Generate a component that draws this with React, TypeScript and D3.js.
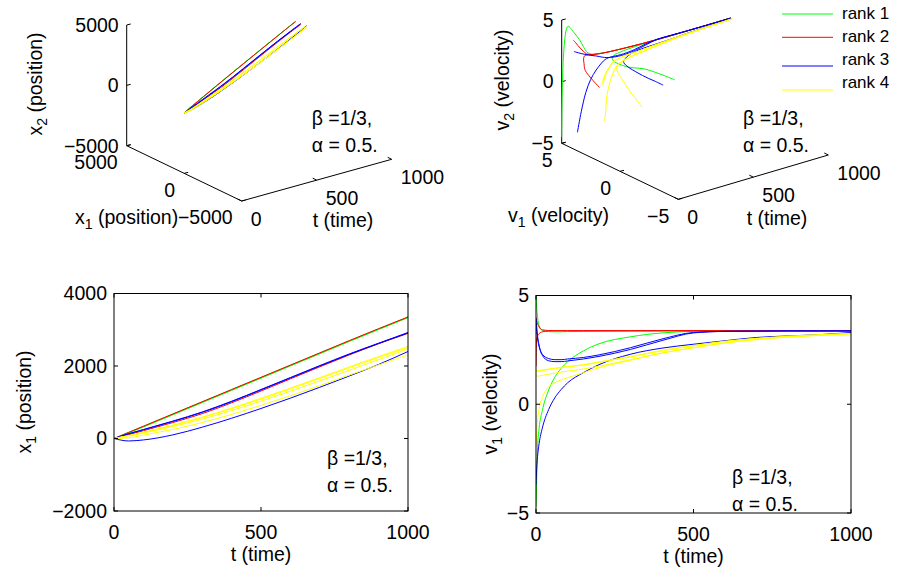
import React from "react";
import * as d3 from "d3";

// time grids: velocities are sampled finer near t = 0 where the transients are
const tVel = [0, 2, 5, 10, 20, 40, 60, 80, 100, 150, 200, 300, 400, 500, 600, 700, 800, 900, 1000];
const tPos = [0, 50, 100, 200, 300, 400, 500, 600, 700, 800, 900, 1000];

const rankNames = ["rank 1", "rank 2", "rank 3", "rank 4"];
const rankColors = ["#00ff00", "#ff0000", "#0000ff", "#ffff00"];

// rank of each agent (index into rankNames)
const agentRank = [0, 0, 1, 1, 2, 2, 2, 3, 3, 3, 3];

// v1 of each agent on tVel
const v1 = [
  [5.0, 4.5, 4.0, 3.6, 3.4, 3.34, 3.33, 3.33, 3.34, 3.35, 3.36, 3.37, 3.38, 3.38, 3.38, 3.38, 3.38, 3.38, 3.38],
  [-4.7, -3.6, -2.0, -1.1, -0.3, 0.65, 1.25, 1.65, 1.95, 2.45, 2.78, 3.1, 3.28, 3.35, 3.37, 3.38, 3.38, 3.38, 3.38],
  [4.0, 3.85, 3.7, 3.55, 3.42, 3.39, 3.38, 3.38, 3.38, 3.38, 3.38, 3.38, 3.38, 3.38, 3.38, 3.38, 3.38, 3.38, 3.38],
  [1.75, 3.0, 3.15, 3.25, 3.33, 3.37, 3.38, 3.38, 3.38, 3.38, 3.38, 3.38, 3.38, 3.38, 3.38, 3.38, 3.38, 3.38, 3.38],
  [3.95, 3.6, 3.15, 2.7, 2.25, 2.0, 1.96, 1.96, 1.99, 2.08, 2.2, 2.52, 2.93, 3.28, 3.35, 3.36, 3.37, 3.37, 3.37],
  [3.65, 3.35, 3.0, 2.65, 2.3, 2.1, 2.05, 2.05, 2.08, 2.15, 2.27, 2.6, 3.0, 3.3, 3.35, 3.36, 3.37, 3.37, 3.37],
  [-3.7, -3.0, -2.4, -1.8, -1.1, -0.25, 0.3, 0.68, 0.98, 1.45, 1.82, 2.3, 2.58, 2.76, 2.92, 3.07, 3.14, 3.2, 3.3],
  [1.58, 1.55, 1.55, 1.56, 1.58, 1.62, 1.66, 1.7, 1.73, 1.82, 1.95, 2.2, 2.48, 2.7, 2.9, 3.03, 3.13, 3.2, 3.26],
  [1.5, 1.5, 1.5, 1.52, 1.55, 1.6, 1.64, 1.68, 1.72, 1.8, 1.92, 2.17, 2.45, 2.68, 2.88, 3.02, 3.12, 3.19, 3.25],
  [1.38, 1.3, 1.28, 1.3, 1.33, 1.38, 1.43, 1.48, 1.52, 1.62, 1.75, 2.05, 2.35, 2.6, 2.82, 2.98, 3.09, 3.17, 3.24],
  [-1.9, -1.4, -0.7, -0.2, 0.3, 0.8, 1.0, 1.12, 1.22, 1.45, 1.68, 2.02, 2.36, 2.6, 2.82, 2.98, 3.09, 3.17, 3.24],
];

// v2 of each agent on tVel
const v2 = [
  [-4.5, 4.7, 4.4, 4.0, 3.5, 3.0, 2.8, 2.7, 2.65, 2.55, 2.48, 2.4, 2.35, 2.32, 2.3, 2.3, 2.3, 2.3, 2.3],
  [4.55, 4.45, 4.2, 3.85, 3.55, 3.28, 3.1, 3.0, 2.92, 2.75, 2.6, 2.45, 2.37, 2.33, 2.31, 2.3, 2.3, 2.3, 2.3],
  [3.81, 3.7, 3.53, 3.35, 3.13, 2.85, 2.72, 2.65, 2.6, 2.52, 2.47, 2.4, 2.35, 2.32, 2.3, 2.3, 2.3, 2.3, 2.3],
  [1.0, 1.8, 2.3, 2.6, 2.75, 2.75, 2.7, 2.65, 2.6, 2.52, 2.47, 2.4, 2.35, 2.32, 2.3, 2.3, 2.3, 2.3, 2.3],
  [2.92, 2.97, 3.05, 3.15, 3.25, 3.2, 3.12, 3.05, 2.98, 2.85, 2.75, 2.6, 2.48, 2.4, 2.35, 2.32, 2.3, 2.3, 2.3],
  [-3.5, -1.7, 0.0, 1.2, 2.1, 2.68, 2.92, 2.98, 2.97, 2.88, 2.78, 2.62, 2.5, 2.4, 2.35, 2.32, 2.3, 2.3, 2.3],
  [3.67, 3.65, 3.6, 3.55, 3.5, 3.38, 3.28, 3.18, 3.1, 2.98, 2.87, 2.7, 2.55, 2.45, 2.38, 2.34, 2.32, 2.3, 2.3],
  [1.41, 1.45, 1.55, 1.7, 1.95, 2.3, 2.55, 2.75, 2.85, 2.9, 2.85, 2.7, 2.58, 2.48, 2.4, 2.35, 2.32, 2.3, 2.3],
  [1.25, 1.3, 1.4, 1.58, 1.85, 2.22, 2.5, 2.7, 2.82, 2.88, 2.84, 2.7, 2.57, 2.47, 2.4, 2.35, 2.32, 2.3, 2.3],
  [-1.56, -1.2, -0.62, 0.15, 0.73, 1.45, 1.94, 2.33, 2.56, 2.75, 2.75, 2.65, 2.55, 2.46, 2.4, 2.35, 2.32, 2.3, 2.3],
  [1.05, 1.41, 1.89, 2.3, 2.55, 2.8, 2.9, 2.92, 2.9, 2.85, 2.78, 2.65, 2.53, 2.45, 2.4, 2.35, 2.32, 2.3, 2.3],
];

// x1 of each agent on tPos
const x1 = [
  [0, 168, 335, 672, 1010, 1347, 1684, 2021, 2358, 2695, 3022, 3350],
  [0, 150, 318, 652, 990, 1327, 1664, 2001, 2338, 2675, 3005, 3335],
  [0, 170, 338, 676, 1013, 1350, 1687, 2024, 2361, 2698, 3030, 3352],
  [0, 105, 215, 440, 685, 985, 1310, 1645, 1978, 2305, 2615, 2900],
  [0, 128, 240, 470, 720, 1015, 1340, 1670, 2000, 2320, 2620, 2910],
  [0, 132, 248, 480, 732, 1028, 1352, 1682, 2012, 2332, 2630, 2925],
  [0, -68, -40, 100, 312, 558, 828, 1113, 1413, 1723, 2043, 2400],
  [0, 82, 175, 370, 590, 840, 1110, 1390, 1680, 1975, 2260, 2540],
  [0, 80, 170, 360, 575, 820, 1085, 1365, 1655, 1950, 2235, 2510],
  [0, 68, 150, 330, 535, 770, 1030, 1305, 1590, 1880, 2175, 2470],
  [0, 18, 95, 250, 440, 665, 915, 1180, 1460, 1750, 2030, 2310],
];

// x2 of each agent on tPos
const x2 = [
  [0, 170, 300, 575, 840, 1100, 1355, 1605, 1855, 2105, 2355, 2610],
  [0, 195, 330, 605, 865, 1120, 1372, 1622, 1872, 2122, 2372, 2622],
  [0, 155, 285, 555, 818, 1077, 1332, 1584, 1835, 2086, 2337, 2590],
  [0, 125, 260, 525, 788, 1047, 1302, 1554, 1805, 2056, 2307, 2560],
  [0, 158, 305, 590, 862, 1122, 1375, 1625, 1875, 2125, 2375, 2625],
  [0, 85, 240, 530, 810, 1075, 1330, 1582, 1833, 2084, 2335, 2585],
  [0, 175, 330, 625, 905, 1170, 1425, 1676, 1927, 2178, 2429, 2680],
  [0, 95, 230, 515, 795, 1060, 1315, 1567, 1818, 2069, 2320, 2570],
  [0, 88, 215, 500, 780, 1045, 1300, 1552, 1803, 2054, 2305, 2555],
  [0, 30, 120, 400, 680, 945, 1200, 1452, 1703, 1954, 2205, 2455],
  [0, 120, 250, 540, 820, 1085, 1340, 1592, 1843, 2094, 2345, 2595],
];

const posTicks = [-5000, 0, 5000];
const velTicks = [-5, 0, 5];
const timeTicks = [0, 500, 1000];
const x1Ticks = [-2000, 0, 2000, 4000];

const FONT = "'Liberation Sans', Arial, Helvetica, sans-serif";
const FS = 19.5;

type Pt = [number, number];

const fmt = (v: number) => (v < 0 ? "\u2212" + Math.abs(v) : String(v));

function Txt({ x, y, anchor = "start", rot = 0, size = FS, children }: any) {
  return (
    <text
      transform={`translate(${x},${y}) rotate(${rot})`}
      textAnchor={anchor}
      dy="0.35em"
      fontFamily={FONT}
      fontSize={size}
      fill="#000"
    >
      {children}
    </text>
  );
}

function SubLabel({ x, y, anchor = "start", rot = 0, base, sub, rest }: any) {
  return (
    <Txt x={x} y={y} anchor={anchor} rot={rot}>
      {base}
      <tspan dy={5} fontSize={14}>{sub}</tspan>
      <tspan dy={-5}>{rest}</tspan>
    </Txt>
  );
}

function Params({ x, y }: { x: number; y: number }) {
  return (
    <g>
      <Txt x={x} y={y}>β =1/3,</Txt>
      <Txt x={x} y={y + 27}>α = 0.5.</Txt>
    </g>
  );
}

// orthographic projection of a MATLAB-style 3D box onto the page
function makeProj(o: Pt, av: Pt, tv: Pt, zv: Pt, aDom: number[], tDom: number[], zDom: number[]) {
  const fa = d3.scaleLinear().domain(aDom).range([0, 1]);
  const ft = d3.scaleLinear().domain(tDom).range([0, 1]);
  const fz = d3.scaleLinear().domain(zDom).range([0, 1]);
  return (a: number, t: number, z: number): Pt => [
    o[0] + fa(a) * av[0] + ft(t) * tv[0] + fz(z) * zv[0],
    o[1] + fa(a) * av[1] + ft(t) * tv[1] + fz(z) * zv[1],
  ];
}

function Axes3D({ proj, aTicks, zTicks, tSeries, aData, zData, xlab, ylab, tlabX, tlabY, params }: any) {
  const aMax = aTicks[aTicks.length - 1];
  const aMin = aTicks[0];
  const zMin = zTicks[0];
  const zMax = zTicks[zTicks.length - 1];
  const seg = (p: Pt, q: Pt, key: string) => (
    <line key={key} x1={p[0]} y1={p[1]} x2={q[0]} y2={q[1]} stroke="#000" strokeWidth={1} />
  );
  const corner = proj(aMax, 0, zMin);
  const line = d3.line<Pt>().curve(d3.curveCatmullRom.alpha(0.5));
  return (
    <g>
      {seg(corner, proj(aMax, 0, zMax), "z")}
      {seg(corner, proj(aMin, 0, zMin), "a")}
      {seg(proj(aMin, 0, zMin), proj(aMin, 1000, zMin), "t")}
      {zTicks.map((z: number) => {
        const p = proj(aMax, 0, z);
        return (
          <g key={"zt" + z}>
            {seg(p, [p[0] + 4, p[1] - 1], "l")}
            <Txt x={p[0] - 8} y={p[1]} anchor="end">{fmt(z)}</Txt>
          </g>
        );
      })}
      {aTicks.map((a: number) => {
        const p = proj(a, 0, zMin);
        return (
          <g key={"at" + a}>
            {seg(p, [p[0] + 4, p[1] - 1], "l")}
            <Txt x={p[0] - 9} y={p[1] + 16.5} anchor="end">{fmt(a)}</Txt>
          </g>
        );
      })}
      {timeTicks.map((t: number) => {
        const p = proj(aMin, t, zMin);
        return (
          <g key={"tt" + t}>
            {seg(p, [p[0] - 4, p[1] - 2], "l")}
            <Txt x={p[0] + 9} y={p[1] + 18}>{t}</Txt>
          </g>
        );
      })}
      {aData.map((arr: number[], i: number) => (
        <path
          key={"s" + i}
          d={line(arr.map((a, k) => proj(a, tSeries[k], zData[i][k]))) || ""}
          fill="none"
          stroke={rankColors[agentRank[i]]}
          strokeWidth={1}
        />
      ))}
      <SubLabel x={xlab[0]} y={xlab[1]} base={xlab[2]} sub="1" rest={xlab[3]} />
      <SubLabel x={ylab[0]} y={ylab[1]} anchor="middle" rot={-90} base={ylab[2]} sub="2" rest={ylab[3]} />
      <Txt x={tlabX} y={tlabY} anchor="middle">t (time)</Txt>
      <Params x={params[0]} y={params[1]} />
    </g>
  );
}

function Axes2D({ box, yDomain, yTicks, tSeries, data, ylab, params }: any) {
  const [l, t, r, b] = box;
  const x = d3.scaleLinear().domain([0, 1000]).range([l, r]);
  const y = d3.scaleLinear().domain(yDomain).range([b, t]);
  const line = d3
    .line<number>()
    .x((_, k) => x(tSeries[k]))
    .y((v) => y(v))
    .curve(d3.curveMonotoneX);
  return (
    <g>
      <defs>
        <clipPath id={"clip" + l}>
          <rect x={l} y={t - 1} width={r - l} height={b - t + 2} />
        </clipPath>
      </defs>
      <g clipPath={`url(#clip${l})`}>
        {data.map((arr: number[], i: number) => (
          <path key={i} d={line(arr) || ""} fill="none" stroke={rankColors[agentRank[i]]} strokeWidth={1} />
        ))}
      </g>
      <rect x={l} y={t} width={r - l} height={b - t} fill="none" stroke="#000" strokeWidth={1} />
      {timeTicks.map((v: number) => (
        <g key={"xt" + v}>
          <line x1={x(v)} x2={x(v)} y1={b} y2={b - 4} stroke="#000" />
          <line x1={x(v)} x2={x(v)} y1={t} y2={t + 4} stroke="#000" />
          <Txt x={x(v)} y={b + 21} anchor="middle">{v}</Txt>
        </g>
      ))}
      {yTicks.map((v: number) => (
        <g key={"yt" + v}>
          <line x1={l} x2={l + 4} y1={y(v)} y2={y(v)} stroke="#000" />
          <line x1={r} x2={r - 4} y1={y(v)} y2={y(v)} stroke="#000" />
          <Txt x={l - 7} y={y(v)} anchor="end">{fmt(v)}</Txt>
        </g>
      ))}
      <Txt x={x(500)} y={b + 43} anchor="middle">t (time)</Txt>
      <SubLabel x={ylab[0]} y={ylab[1]} anchor="middle" rot={-90} base={ylab[2]} sub="1" rest={ylab[3]} />
      <Params x={params[0]} y={params[1]} />
    </g>
  );
}

export default function App() {
  const projPos = makeProj([241.7, 201], [-115, -55.3], [150, -41.7], [0, -120.7], [-5000, 5000], [0, 1000], [-5000, 5000]);
  const projVel = makeProj([678.3, 199.3], [-116.6, -56], [150, -44.3], [0, -123.3], [-5, 5], [0, 1000], [-5, 5]);
  const legendY = [14, 37.3, 66, 90];
  const legendTextY = [13.3, 36, 59.3, 81.7];
  return (
    <svg
      width={904}
      height={573}
      style={{ position: "absolute", left: 0, top: 0, background: "#fff" }}
    >
      <rect width={904} height={573} fill="#fff" />
      <Axes3D
        proj={projPos}
        aTicks={posTicks}
        zTicks={posTicks}
        tSeries={tPos}
        aData={x1}
        zData={x2}
        xlab={[75, 217, "x", " (position)"]}
        ylab={[35, 84, "x", " (position)"]}
        tlabX={343}
        tlabY={220}
        params={[311.7, 118]}
      />
      <Axes3D
        proj={projVel}
        aTicks={velTicks}
        zTicks={velTicks}
        tSeries={tVel}
        aData={v1}
        zData={v2}
        xlab={[508, 215, "v", " (velocity)"]}
        ylab={[502, 80, "v", " (velocity)"]}
        tlabX={777}
        tlabY={218}
        params={[743, 118]}
      />
      {rankNames.map((name, i) => (
        <g key={name}>
          <line x1={782} x2={833} y1={legendY[i]} y2={legendY[i]} stroke={rankColors[i]} strokeWidth={1} />
          <Txt x={842} y={legendTextY[i]} size={17}>{name}</Txt>
        </g>
      ))}
      <Axes2D
        box={[114, 293.5, 408, 511]}
        yDomain={[-2000, 4000]}
        yTicks={x1Ticks}
        tSeries={tPos}
        data={x1}
        ylab={[24, 402, "x", " (position)"]}
        params={[327, 458]}
      />
      <Axes2D
        box={[536, 295.5, 851, 513]}
        yDomain={[-5, 5]}
        yTicks={velTicks}
        tSeries={tVel}
        data={v1}
        ylab={[490, 404, "v", " (velocity)"]}
        params={[732, 477]}
      />
    </svg>
  );
}
